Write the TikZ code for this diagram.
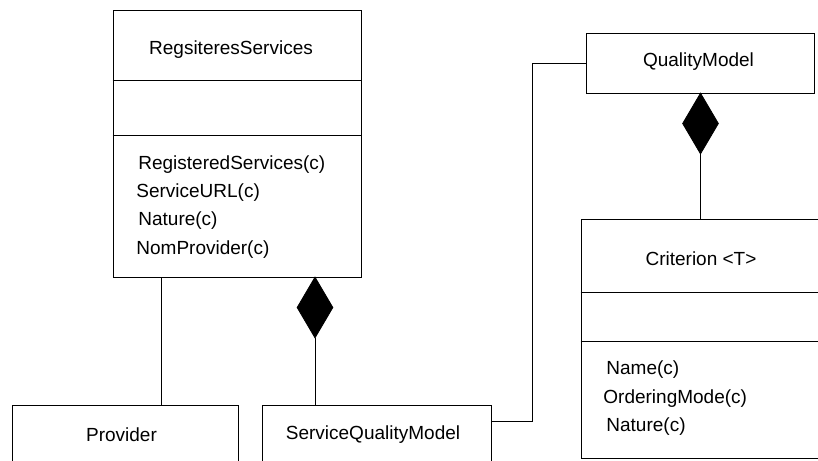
\documentclass[tikz,border=0pt]{standalone}
\usepackage{fontspec}
\setmainfont{Liberation Sans}
\usetikzlibrary{shapes.geometric,calc}
\tikzset{ cls/.style={draw,rectangle,inner sep=0pt},
  comp/.style={draw,fill=black,diamond,inner sep=0pt,minimum width=36pt,minimum height=61pt},
  meth/.style={anchor=west,inner sep=0pt} }

\begin{document}
\begin{tikzpicture}[x=1pt,y=-1pt,line width=0.8pt,font=\fontsize{19}{23}\selectfont]
  \useasboundingbox (0,0) rectangle (818,460);
  \clip (0,0) rectangle (818,460);
  % classes
  \node[cls,minimum width=248pt,minimum height=267pt] (rs) at (237,143.5) {};
  \node[cls,minimum width=226pt,minimum height=65pt] (prov) at (125,437.5) {};
  \node[cls,minimum width=229pt,minimum height=65pt] (sqm) at (376.5,437.5) {};
  \node[cls,minimum width=228pt,minimum height=60pt] (qm) at (700,63) {};
  \node[cls,minimum width=240pt,minimum height=239pt] (crit) at (701,338.5) {};
  \draw ($(rs.north west)+(0,71)$) -- ++(248,0);
  \draw ($(rs.north west)+(0,126)$) -- ++(248,0);
  \draw ($(crit.north west)+(0,74)$) -- ++(240,0);
  \draw ($(crit.north west)+(0,123)$) -- ++(240,0);
  % names
  \node (rst) at (231,50) {RegsiteresServices};
  \node (provt) at (121.5,435) {Provider};
  \node (sqmt) at (373,435) {ServiceQualityModel};
  \node (qmt) at (698.5,62) {QualityModel};
  \node (critt) at (701,259) {Criterion <T>};
  % operations
  \node[meth] (rs1) at (138,165) {RegisteredServices(c)};
  \node[meth] (rs2) at (136,193) {ServiceURL(c)};
  \node[meth] (rs3) at (138,221) {Nature(c)};
  \node[meth] (rs4) at (136,250) {NomProvider(c)};
  \node[meth] (cr1) at (606,370) {Name(c)};
  \node[meth] (cr2) at (603,399) {OrderingMode(c)};
  \node[meth] (cr3) at (606,427) {Nature(c)};
  % links
  \coordinate (rp) at ($(rs.south west)+(49,0)$);
  \draw (rp) -- (rp |- prov.north);
  \node[comp] (d1) at (315,307.5) {};
  \draw (d1.south) -- (d1.south |- sqm.north);
  \coordinate (sq) at ($(sqm.north east)+(0,17)$);
  \draw (sq) -- ++(41,0) |- (qm.west);
  \node[comp] (d2) at (700.5,123.5) {};
  \draw (d2.south) -- (d2.south |- crit.north);
\end{tikzpicture}
\end{document}
